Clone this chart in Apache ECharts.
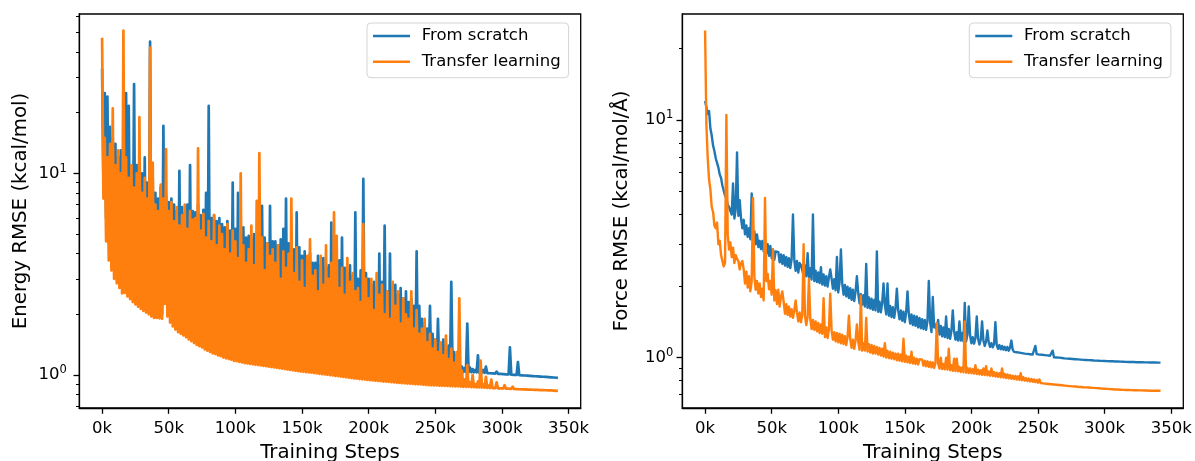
<!DOCTYPE html>
<html><head><meta charset="utf-8">
<script src="https://cdn.jsdelivr.net/npm/echarts@6/dist/echarts.min.js"></script>
<style>html,body{margin:0;padding:0;background:#fff}#chart{width:1195px;height:461px}</style>
</head><body><div id="chart"></div>
<script>
// ---- data (values logged every 1000 training steps) ----
const stepSize = 1000;
const seriesNames = ['From scratch', 'Transfer learning'];
const xTickValues = [0, 50000, 100000, 150000, 200000, 250000, 300000, 350000];
const yMajorTicks = [1, 10];
const energyMinorTicks = [0.7, 0.8, 0.9, 2, 3, 4, 5, 6, 7, 8, 9, 20, 30, 40, 50, 60];
const forceMinorTicks = [0.7, 0.8, 0.9, 2, 3, 4, 5, 6, 7, 8, 9, 20];
const axisTitles = ['Training Steps', 'Energy RMSE (kcal/mol)', 'Force RMSE (kcal/mol/Å)'];

const energyScratch = [
33, 9, 25, 6, 24, 4.5, 17, 4, 15, 3.5,
14, 3.3, 12, 3.1, 13, 3.0, 11, 3.5, 25, 3.4,
21.6, 3.0, 10, 2.9, 27.7, 2.7, 11, 2.6, 12, 2.5,
10, 2.4, 12, 2.3, 9, 2.2, 45, 2.1, 9.5, 2.05,
8, 2.0, 7.5, 2.0, 8.5, 2.0, 17.2, 2.4, 7.8, 2.3,
7.2, 2.2, 7.5, 2.1, 7.0, 2.0, 6.5, 1.9, 10.3, 1.85,
6.8, 1.8, 6.3, 1.75, 7.0, 1.7, 11, 1.65, 6.5, 1.6,
6.4, 1.56, 7.0, 1.53, 6.2, 1.5, 6.6, 1.48, 8.0, 1.46,
21.6, 1.44, 6.0, 1.42, 6.2, 1.4, 5.8, 1.39, 6.0, 1.38,
5.6, 1.36, 5.4, 1.35, 5.8, 1.34, 5.2, 1.33, 9.0, 1.32,
5.3, 1.3, 8.0, 1.29, 5.0, 1.28, 5.4, 1.27, 4.8, 1.26,
4.9, 1.25, 4.7, 1.24, 5.0, 1.23, 4.6, 1.22, 4.4, 1.21,
6.9, 1.2, 4.8, 1.19, 4.5, 1.18, 6.9, 1.17, 4.6, 1.16,
4.6, 1.15, 4.4, 1.14, 4.7, 1.13, 5.3, 1.12, 7.5, 1.11,
4.5, 1.1, 4.6, 1.09, 4.2, 1.092, 6.4, 1.091, 4.3, 1.09,
3.9, 1.09, 4.1, 1.088, 3.7, 1.086, 4.0, 1.084, 3.6, 1.082,
3.6, 1.08, 3.9, 1.078, 3.5, 1.076, 3.8, 1.074, 3.4, 1.072,
3.5, 1.07, 5.7, 1.069, 3.6, 1.068, 3.3, 1.067, 3.7, 1.066,
4.8, 1.065, 3.4, 1.064, 3.2, 1.063, 3.5, 1.062, 3.1, 1.061,
6.4, 1.06, 3.0, 1.06, 3.3, 1.06, 9.4, 1.06, 3.2, 1.06,
3.0, 1.06, 2.8, 1.058, 2.9, 1.056, 2.7, 1.055, 4.0, 1.054,
2.9, 1.053, 5.5, 1.052, 2.6, 1.051, 4.0, 1.05, 2.7, 1.05,
2.8, 1.049, 2.5, 1.048, 2.7, 1.047, 2.4, 1.046, 2.6, 1.045,
2.3, 1.045, 2.4, 1.044, 2.2, 1.043, 4.1, 1.042, 2.2, 1.042,
1.9, 1.041, 1.8, 1.04, 1.7, 1.04, 2.2, 1.039, 1.6, 1.039,
1.5, 1.038, 1.9, 1.038, 1.4, 1.037, 1.5, 1.037, 1.35, 1.036,
1.4, 1.036, 2.9, 1.035, 1.3, 1.035, 1.25, 1.034, 1.2, 1.034,
1.1, 1.033, 1.08, 1.033, 1.8, 1.032, 1.09, 1.032, 1.07, 1.031,
1.06, 1.03, 1.25, 1.028, 1.05, 1.026, 1.06, 1.024, 1.1, 1.022,
1.04, 1.02, 1.035, 1.018, 1.03, 1.016, 1.04, 1.014, 1.025, 1.012,
1.02, 1.01, 1.025, 1.008, 1.02, 1.006, 1.37, 1.004, 1.02, 1.002,
1.01, 1.0, 1.16, 0.998, 1.005, 0.996, 1.0, 0.994, 1.0, 0.992,
0.995, 0.99, 0.998, 0.988, 0.99, 0.986, 0.992, 0.984, 0.988, 0.982,
0.984, 0.98, 0.985, 0.978, 0.982, 0.976, 0.98, 0.974, 0.978, 0.972,
0.974, 0.969, 0.967
];

const energyTransfer = [
47, 7.5, 15, 4.6, 12, 3.7, 14, 3.3, 21, 3.0,
11, 2.85, 13, 2.7, 10, 2.54, 51, 2.55, 12, 2.45,
9.5, 2.38, 11, 2.3, 8.5, 2.24, 10, 2.18, 19, 2.13,
8, 2.08, 9.5, 2.04, 7.5, 2.0, 42, 1.95, 11.3, 1.92,
7, 1.92, 6.5, 1.91, 8.8, 1.9, 7.5, 2.25, 13.2, 1.95,
6.5, 1.82, 7.2, 1.74, 5.8, 1.68, 6.8, 1.63, 5.5, 1.6,
6.2, 1.57, 7.0, 1.54, 5.3, 1.5, 6.5, 1.47, 5.9, 1.44,
6.0, 1.41, 13.3, 1.39, 5.2, 1.37, 6.3, 1.34, 4.8, 1.32,
5.8, 1.3, 4.6, 1.28, 6.2, 1.27, 4.4, 1.25, 5.5, 1.24,
5.0, 1.22, 4.2, 1.21, 5.6, 1.2, 4.0, 1.19, 5.2, 1.175,
4.6, 1.17, 3.8, 1.16, 10, 1.155, 4.4, 1.145, 3.6, 1.14,
4.2, 1.135, 5.5, 1.13, 3.5, 1.125, 7.3, 1.12, 12.6, 1.115,
4.8, 1.11, 3.3, 1.105, 4.5, 1.1, 3.9, 1.095, 4.2, 1.09,
3.6, 1.085, 4.4, 1.08, 3.0, 1.075, 4.1, 1.07, 3.4, 1.065,
4.0, 1.06, 7.5, 1.055, 3.2, 1.05, 4.3, 1.045, 2.9, 1.04,
3.7, 1.037, 2.7, 1.033, 3.9, 1.03, 4.7, 1.026, 3.1, 1.022,
3.3, 1.018, 2.6, 1.014, 3.9, 1.01, 2.8, 1.006, 4.4, 1.002,
3.0, 0.998, 3.6, 0.994, 6.4, 0.99, 4.9, 0.986, 2.7, 0.982,
3.4, 0.978, 2.5, 0.974, 3.8, 0.97, 2.9, 0.966, 3.2, 0.962,
2.6, 0.958, 2.7, 0.955, 2.3, 0.952, 5.6, 0.949, 3.0, 0.946,
2.4, 0.943, 3.0, 0.94, 2.1, 0.937, 3.2, 0.934, 2.5, 0.931,
2.8, 0.928, 2.0, 0.926, 2.6, 0.924, 1.9, 0.921, 2.9, 0.918,
2.2, 0.915, 2.6, 0.913, 1.8, 0.911, 2.4, 0.909, 2.0, 0.907,
1.9, 0.905, 2.6, 0.903, 1.7, 0.901, 2.1, 0.899, 1.6, 0.897,
1.7, 0.895, 1.9, 0.893, 1.45, 0.891, 1.6, 0.889, 1.35, 0.888,
1.5, 0.887, 1.3, 0.886, 1.45, 0.884, 1.25, 0.883, 1.57, 0.882,
1.2, 0.881, 1.35, 0.879, 1.15, 0.878, 1.3, 0.877, 2.4, 0.876,
1.05, 0.874, 0.95, 0.873, 1.12, 0.872, 0.92, 0.871, 1.0, 0.87,
0.9, 0.868, 0.93, 0.867, 1.18, 0.866, 0.9, 0.865, 0.98, 0.864,
0.885, 0.862, 0.95, 0.861, 0.875, 0.86, 0.92, 0.859, 0.87, 0.858,
0.872, 0.857, 0.89, 0.856, 0.868, 0.855, 0.864, 0.854, 0.875, 0.852,
0.862, 0.851, 0.866, 0.85, 0.858, 0.849, 0.862, 0.848, 0.855, 0.847,
0.853, 0.846, 0.856, 0.845, 0.85, 0.844, 0.852, 0.843, 0.848, 0.842,
0.846, 0.841, 0.848, 0.84, 0.844, 0.839, 0.845, 0.838, 0.842, 0.837,
0.839, 0.835, 0.836
];

const forceScratch = [
12, 11.3, 10.6, 10.9, 9.2, 8.6, 7.8, 7.4, 6.9, 6.6,
6.3, 5.9, 5.7, 5.3, 5.2, 4.8, 4.7, 4.4, 4.3, 4.15,
4.0, 5.4, 3.85, 4.2, 7.3, 3.95, 4.6, 3.85, 3.5, 3.8,
3.3, 3.6, 3.22, 3.5, 3.15, 4.9, 3.08, 3.4, 3.0, 3.3,
2.92, 3.1, 2.86, 3.1, 2.8, 3.05, 2.75, 3.0, 2.68, 2.95,
2.62, 2.85, 2.58, 2.8, 2.75, 2.78, 2.52, 2.72, 2.48, 2.7,
2.44, 2.65, 2.41, 2.62, 2.38, 2.6, 4.0, 2.58, 2.32, 2.55,
2.28, 2.5, 2.45, 2.46, 2.22, 2.44, 2.2, 2.75, 2.17, 2.38,
2.13, 4.0, 2.1, 2.32, 2.08, 2.28, 2.06, 2.4, 2.03, 2.24,
2.01, 2.2, 1.99, 2.18, 2.35, 2.15, 1.95, 2.14, 1.92, 2.65,
1.88, 2.08, 2.85, 2.05, 1.84, 2.02, 1.81, 1.99, 1.78, 1.96,
1.75, 1.93, 1.73, 1.9, 2.2, 1.87, 1.69, 1.85, 1.67, 1.83,
1.64, 2.48, 1.62, 1.79, 1.61, 1.77, 1.59, 1.75, 1.58, 2.8,
1.56, 1.72, 1.55, 1.7, 2.05, 1.67, 1.52, 2.05, 1.5, 1.65,
1.48, 1.63, 1.47, 1.61, 1.95, 1.58, 1.45, 1.58, 1.43, 1.56,
1.41, 1.55, 1.9, 1.53, 1.39, 1.52, 1.37, 1.5, 1.36, 1.49,
1.34, 1.47, 1.33, 1.45, 1.32, 1.44, 1.31, 1.43, 2.1, 1.41,
1.28, 1.8, 1.34, 1.38, 1.3, 1.44, 1.25, 1.36, 1.23, 1.34,
1.22, 1.49, 1.21, 1.32, 1.2, 1.3, 1.58, 1.29, 1.19, 1.28,
1.18, 1.42, 1.18, 1.27, 1.17, 1.7, 1.17, 1.25, 1.64, 1.24,
1.15, 1.22, 1.145, 1.21, 1.49, 1.2, 1.135, 1.19, 1.42, 1.18,
1.12, 1.17, 1.3, 1.16, 1.11, 1.15, 1.105, 1.14, 1.41, 1.13,
1.09, 1.13, 1.085, 1.12, 1.08, 1.11, 1.075, 1.11, 1.07, 1.1,
1.18, 1.08, 1.058, 1.075, 1.054, 1.07, 1.05, 1.065, 1.045, 1.06,
1.04, 1.055, 1.037, 1.05, 1.034, 1.045, 1.031, 1.04, 1.12, 1.035,
1.02, 1.03, 1.018, 1.028, 1.016, 1.025, 1.013, 1.022, 1.01, 1.018,
1.006, 1.07, 1.004, 1.015, 1.002, 1.012, 1.0, 1.008, 0.997, 1.005,
0.993, 1.0, 0.991, 0.997, 0.989, 0.994, 0.987, 0.992, 0.985, 0.989,
0.983, 0.987, 0.981, 0.984, 0.979, 0.982, 0.978, 0.98, 0.976, 0.978,
0.975, 0.976, 0.973, 0.974, 0.972, 0.972, 0.97, 0.971, 0.969, 0.969,
0.968, 0.968, 0.967, 0.966, 0.966, 0.965, 0.965, 0.964, 0.964, 0.963,
0.963, 0.962, 0.962, 0.961, 0.961, 0.96, 0.96, 0.96, 0.959, 0.959,
0.958, 0.958, 0.958, 0.957, 0.957, 0.957, 0.956, 0.956, 0.956, 0.956,
0.955, 0.955, 0.955, 0.955, 0.954, 0.954, 0.954, 0.954, 0.954, 0.953,
0.953, 0.953, 0.953
];

const forceTransfer = [
23.8, 9.5, 6.9, 5.6, 5.1, 4.3, 4.1, 3.6, 3.5, 3.7,
3.0, 3.1, 2.7, 2.75, 2.42, 2.5, 10.5, 3.3, 2.85, 3.05,
2.65, 2.9, 2.5, 2.7, 2.6, 2.55, 2.35, 2.5, 2.55, 2.35,
2.05, 2.3, 1.97, 2.2, 1.9, 2.1, 4.7, 2.2, 1.93, 2.1,
1.86, 2.05, 1.8, 1.95, 1.74, 4.7, 2.1, 2.25, 1.94, 2.1,
1.84, 2.85, 1.74, 1.92, 1.68, 1.93, 1.64, 1.8, 1.9, 1.72,
1.53, 1.68, 1.51, 1.64, 1.49, 1.6, 1.47, 1.58, 1.74, 1.55,
1.42, 1.55, 1.41, 1.52, 3.0, 1.5, 1.37, 1.48, 2.15, 1.46,
1.32, 1.44, 1.31, 1.42, 1.29, 1.4, 1.27, 1.38, 1.26, 1.78,
1.22, 1.34, 1.21, 1.32, 1.86, 1.3, 1.19, 1.28, 1.17, 1.27,
1.16, 1.26, 1.15, 1.25, 1.14, 1.23, 1.13, 1.22, 1.5, 1.2,
1.1, 1.19, 1.09, 1.18, 1.38, 1.17, 1.08, 1.82, 1.07, 1.15,
1.07, 1.47, 1.06, 1.14, 1.05, 1.13, 1.04, 1.12, 1.04, 1.11,
1.03, 1.1, 1.02, 1.09, 1.01, 1.15, 1.0, 1.07, 0.995, 1.06,
0.99, 1.05, 0.985, 1.04, 0.975, 1.04, 0.97, 1.03, 0.965, 1.2,
0.96, 1.02, 0.955, 1.01, 0.95, 1.06, 0.945, 1.0, 0.94, 0.99,
0.935, 0.985, 1.0, 0.98, 0.925, 0.97, 0.92, 0.965, 0.915, 0.96,
0.91, 0.955, 0.905, 0.95, 1.4, 0.945, 0.9, 1.0, 0.895, 0.94,
0.893, 1.0, 0.89, 1.09, 0.885, 0.93, 0.88, 0.99, 0.878, 0.99,
0.875, 0.915, 0.87, 0.91, 0.868, 1.42, 0.865, 0.905, 0.862, 0.9,
0.86, 0.895, 0.857, 0.93, 0.853, 0.89, 0.85, 0.885, 0.847, 0.9,
0.845, 0.92, 0.842, 0.875, 0.839, 0.9, 0.836, 0.87, 0.833, 0.865,
0.83, 0.86, 0.827, 0.9, 0.824, 0.855, 0.821, 0.85, 0.818, 0.845,
0.815, 0.84, 0.812, 0.838, 0.809, 0.835, 0.806, 0.86, 0.803, 0.828,
0.8, 0.82, 0.797, 0.817, 0.794, 0.814, 0.791, 0.81, 0.788, 0.806,
0.785, 0.81, 0.782, 0.79, 0.779, 0.787, 0.777, 0.784, 0.775, 0.781,
0.773, 0.779, 0.771, 0.776, 0.769, 0.773, 0.767, 0.771, 0.765, 0.768,
0.763, 0.766, 0.761, 0.764, 0.759, 0.762, 0.757, 0.76, 0.756, 0.758,
0.754, 0.756, 0.753, 0.754, 0.751, 0.752, 0.75, 0.751, 0.749, 0.749,
0.747, 0.747, 0.746, 0.745, 0.744, 0.744, 0.743, 0.742, 0.741, 0.741,
0.74, 0.739, 0.739, 0.738, 0.737, 0.737, 0.736, 0.736, 0.735, 0.735,
0.734, 0.734, 0.733, 0.733, 0.732, 0.732, 0.731, 0.731, 0.731, 0.73,
0.73, 0.73, 0.729, 0.729, 0.729, 0.728, 0.728, 0.728, 0.728, 0.727,
0.727, 0.727, 0.727, 0.727, 0.726, 0.726, 0.726, 0.726, 0.726, 0.726,
0.726, 0.726, 0.726
];

// ---- styling ----
const FONT = 'DejaVu Sans';
const BLUE = '#1f77b4', ORANGE = '#ff7f0e';
const toPairs = vals => vals.map((v, i) => [i * stepSize, v]);

function xAxisFor(gi) {
  return {
    type: 'value', gridIndex: gi, min: -17100, max: 359100, position: 'bottom',
    axisLine: { show: true, onZero: false, lineStyle: { color: '#000', width: 1.3 } },
    axisTick: { show: true, length: 5.8, customValues: xTickValues, lineStyle: { color: '#000', width: 1.3 } },
    axisLabel: { customValues: xTickValues, formatter: v => Math.round(v / 1000) + 'k',
      fontFamily: FONT, fontSize: 16.5, color: '#000', margin: 12 },
    splitLine: { show: false },
    name: axisTitles[0], nameLocation: 'middle', nameGap: 35,
    nameTextStyle: { fontFamily: FONT, fontSize: 19.8, color: '#000' }
  };
}
function yMajor(gi, min, max, title, gap, margin) {
  return {
    type: 'log', logBase: 10, gridIndex: gi, min: min, max: max, position: 'left',
    axisLine: { show: true, onZero: false, lineStyle: { color: '#000', width: 1.3 } },
    axisTick: { show: true, length: 5.8, customValues: yMajorTicks, lineStyle: { color: '#000', width: 1.3 } },
    axisLabel: { customValues: yMajorTicks, margin: margin,
      formatter: v => '{b|10}{s|' + Math.round(Math.log10(v)) + '}',
      rich: { b: { fontFamily: FONT, fontSize: 16.5, color: '#000' },
              s: { fontFamily: FONT, fontSize: 11.5, color: '#000', padding: [0, 0, 9, 0] } } },
    splitLine: { show: false }, minorTick: { show: false },
    name: title, nameLocation: 'middle', nameGap: gap,
    nameTextStyle: { fontFamily: FONT, fontSize: 19.8, color: '#000' }
  };
}
function yMinor(gi, min, max, ticks) {
  return {
    type: 'log', logBase: 10, gridIndex: gi, min: min, max: max, position: 'left', offset: 0,
    axisLine: { show: false, onZero: false },
    axisTick: { show: true, length: 3.3, customValues: ticks, lineStyle: { color: '#000', width: 1 } },
    axisLabel: { show: false }, splitLine: { show: false }
  };
}
function legendAt(left) {
  return {
    data: seriesNames, left: left, top: 23, orient: 'vertical', icon: 'rect',
    itemWidth: 37, itemHeight: 2.5, itemGap: 5.7, padding: [3, 8, 6, 6],
    borderColor: '#d4d4d4', borderWidth: 1, borderRadius: 4, backgroundColor: 'rgba(255,255,255,0.8)',
    textStyle: { fontFamily: FONT, fontSize: 16.5, color: '#000', lineHeight: 20, padding: [0, 0, 0, 6.7] }
  };
}
function line(name, xi, yi, vals, color, width) {
  return { name: name, type: 'line', xAxisIndex: xi, yAxisIndex: yi, data: toPairs(vals),
    showSymbol: false, symbol: 'none', color: color,
    lineStyle: { width: width, color: color, join: 'round' }, itemStyle: { color: color },
    emphasis: { disabled: true }, animation: false };
}

const chart = echarts.init(document.getElementById('chart'), null, { renderer: 'canvas' });
chart.setOption({
  animation: false,
  backgroundColor: '#fff',
  grid: [
    { left: 79.3, top: 14, width: 501.4, height: 394, show: true, borderColor: '#000', borderWidth: 1.3, containLabel: false, outerBoundsMode: 'none' },
    { left: 682.3, top: 14, width: 501, height: 394, show: true, borderColor: '#000', borderWidth: 1.3, containLabel: false, outerBoundsMode: 'none' }
  ],
  legend: [legendAt(367), legendAt(969.3)],
  xAxis: [xAxisFor(0), xAxisFor(1)],
  yAxis: [
    yMajor(0, 0.686, 61.7, axisTitles[1], 48.5, 12.5),
    yMinor(0, 0.686, 61.7, energyMinorTicks),
    yMajor(1, 0.614, 27.9, axisTitles[2], 50, 9),
    yMinor(1, 0.614, 27.9, forceMinorTicks)
  ],
  series: [
    line(seriesNames[0], 0, 0, energyScratch, BLUE, 2.7),
    line(seriesNames[1], 0, 0, energyTransfer, ORANGE, 2.7),
    line(seriesNames[0], 1, 2, forceScratch, BLUE, 2.4),
    line(seriesNames[1], 1, 2, forceTransfer, ORANGE, 2.4)
  ]
});
</script></body></html>
